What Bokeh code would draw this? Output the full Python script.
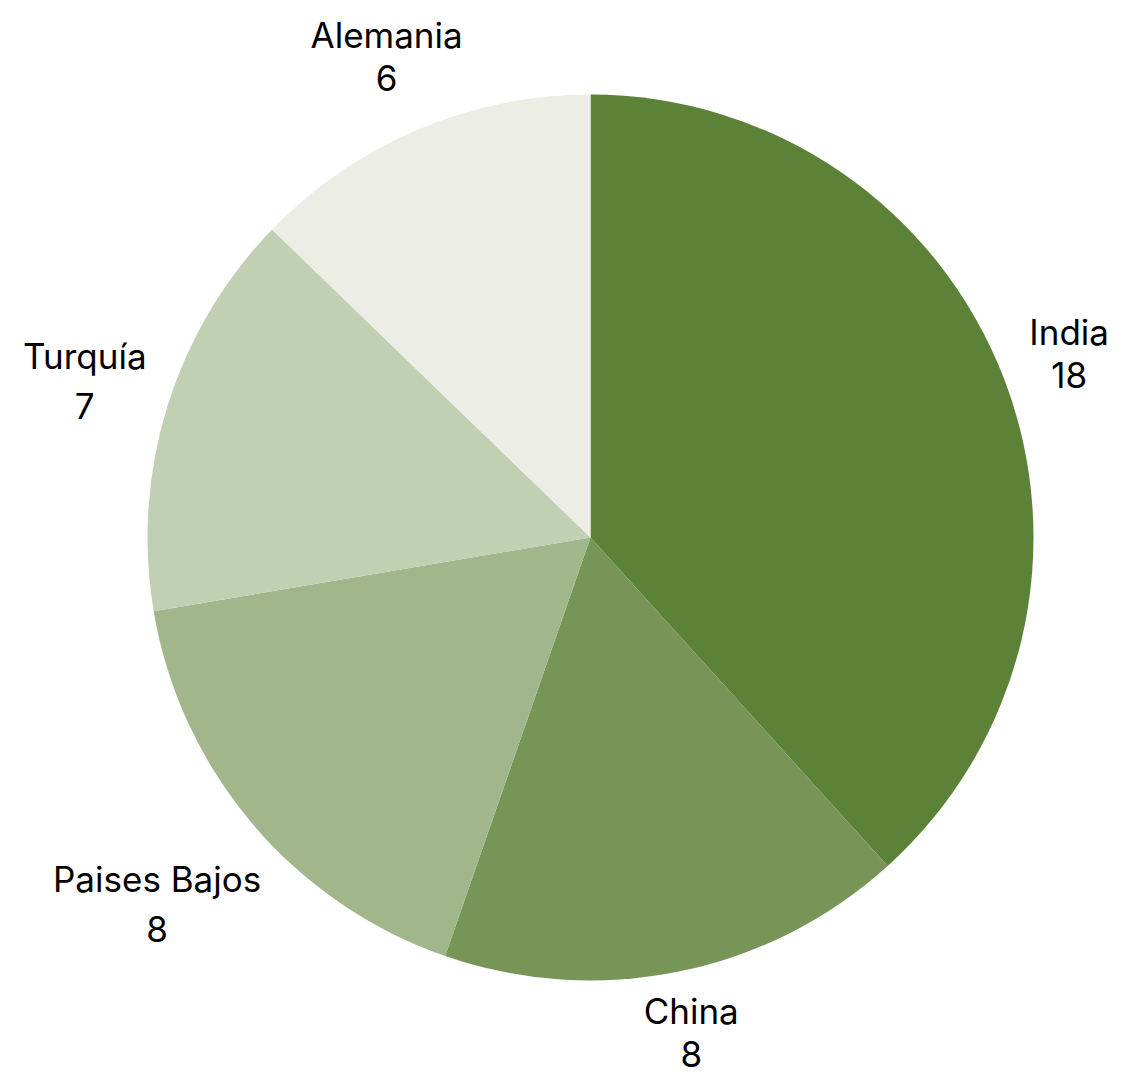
import math
from bokeh.plotting import figure
from bokeh.models import Range1d, ColumnDataSource
from bokeh.core.properties import value
from bokeh.embed import file_html
from bokeh.resources import INLINE

countries = ["India", "China", "Paises Bajos", "Turquía", "Alemania"]
values = [18, 8, 8, 7, 6]
colors = ["#5c8238", "#789558", "#a2b68b", "#c1cfb2", "#eceee6"]

R = 443
FONT = "Inter"
FS = 35

total = sum(values)
starts, ends = [], []
a = math.pi / 2
for v in values:
    starts.append(a)
    a -= v / total * 2 * math.pi
    ends.append(a)

p = figure(width=1138, height=1080, output_backend="svg", toolbar_location=None,
           x_range=Range1d(-590, 548), y_range=Range1d(-543, 537),
           min_border=0)
p.axis.visible = False
p.grid.visible = False
p.outline_line_color = None
p.background_fill_color = "white"

src = ColumnDataSource(dict(start=starts, end=ends, color=colors))
p.wedge(x=0, y=0, radius=R, start_angle="start", end_angle="end",
        direction="clock", fill_color="color", line_color=None, source=src)

nx, ny, vx, vy, vals = [], [], [], [], []
for name, v, s, e in zip(countries, values, starts, ends):
    m = (s + e) / 2
    c, sn = math.cos(m), math.sin(m)
    gap = 50 if any(ch in "gjpqy" for ch in name) else 43
    hw = 9 * len(name)
    hh = gap / 2 + 20
    r = R + 13 + hw * abs(c) + hh * abs(sn)
    cx, cy = r * c, r * sn
    nx.append(cx); ny.append(cy + gap / 2)
    vx.append(cx); vy.append(cy - gap / 2)
    vals.append(str(v))

p.text(x=nx, y=ny, text=countries, text_font=value(FONT), text_font_size=f"{FS}px",
       text_align="center", text_baseline="middle", text_color="#000000")
p.text(x=vx, y=vy, text=vals, text_font=value(FONT), text_font_size=f"{FS}px",
       text_align="center", text_baseline="middle", text_color="#000000")

open("out.html", "w").write(file_html(p, INLINE))
